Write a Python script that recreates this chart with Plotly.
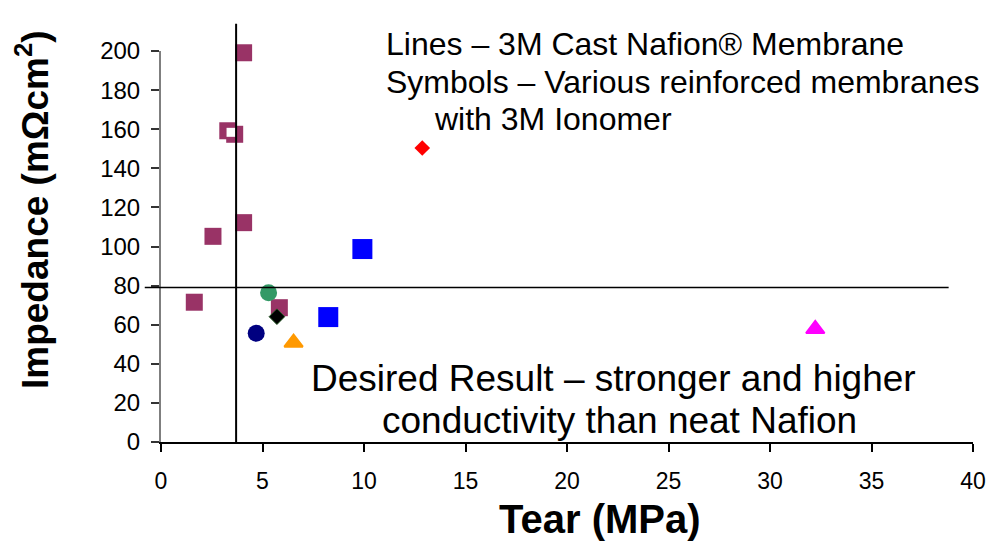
import plotly.graph_objects as go

# ---- data ----
X_RANGE = [0, 40]
Y_RANGE = [0, 200]
x_ticks = [0, 5, 10, 15, 20, 25, 30, 35, 40]
y_ticks = [0, 20, 40, 60, 80, 100, 120, 140, 160, 180, 200]

# 3M cast Nafion reference lines
NAFION_TEAR = 3.7
NAFION_IMPEDANCE = 79
VLINE_TOP = 214          # vertical line runs above the plot top
HLINE_X = [-0.8, 38.8]   # horizontal line extent (data units)

# reinforced membranes (symbols)
purple_x = [4.07, 3.29, 3.63, 2.56, 4.07, 1.64, 5.83]
purple_y = [199.1, 159.2, 157.4, 105.2, 112.2, 71.5, 68.7]
white_x = [3.45]
white_y = [158.4]
blue_x = [9.92, 8.24]
blue_y = [98.7, 63.9]
green_x = [5.30]
green_y = [76.4]
navy_x = [4.69]
navy_y = [55.6]
black_x = [5.71]
black_y = [64.1]
orange_x = [6.53]
orange_y = [50.8]
magenta_x = [32.23]
magenta_y = [57.8]
red_x = [12.87]
red_y = [150.4]

FONT = "Arial, 'Liberation Sans', sans-serif"

fig = go.Figure()

def add(xs, ys, symbol, size, color, line_color=None, line_width=0):
    fig.add_trace(go.Scatter(
        x=xs, y=ys, mode="markers", cliponaxis=False, showlegend=False,
        marker=dict(symbol=symbol, size=size, color=color,
                    line=dict(color=line_color or color, width=line_width))))

add(purple_x, purple_y, "square", 17, "#993366")
add(white_x, white_y, "square", 9, "white")
add(blue_x, blue_y, "square", 20, "#0000FF")
add(green_x, green_y, "circle", 17, "#339966")
add(navy_x, navy_y, "circle", 17, "#000080")
add(black_x, black_y, "diamond", 12, "#000000", "#1a4d1a", 1)
add(orange_x, orange_y, "triangle-up", 16, "#FF9900", None, 2)
add(magenta_x, magenta_y, "triangle-up", 16, "#FF00FF", None, 2)
add(red_x, red_y, "diamond", 12, "#FF0000")

# reference lines, expressed in paper coordinates derived from the axis ranges
def px(v):
    return (v - X_RANGE[0]) / (X_RANGE[1] - X_RANGE[0])

def py(v):
    return (v - Y_RANGE[0]) / (Y_RANGE[1] - Y_RANGE[0])

fig.add_shape(type="line", xref="paper", yref="paper",
              x0=px(NAFION_TEAR), x1=px(NAFION_TEAR), y0=py(0), y1=py(VLINE_TOP),
              line=dict(color="black", width=2), layer="above")
fig.add_shape(type="line", xref="paper", yref="paper",
              x0=px(HLINE_X[0]), x1=px(HLINE_X[1]),
              y0=py(NAFION_IMPEDANCE), y1=py(NAFION_IMPEDANCE),
              line=dict(color="black", width=1.5), layer="above")

# text annotations
W, H = 1005, 543
L, R, T, B = 161, 32, 51, 101
pw, ph = W - L - R, H - T - B

def fx(pxl):
    return (pxl - L) / pw

def fy(pyl):
    return (H - B - pyl) / ph

def note(text, x, y, size, xanchor="left", angle=0, yanchor="middle"):
    fig.add_annotation(text=text, xref="paper", yref="paper", x=x, y=y,
                       xanchor=xanchor, yanchor=yanchor, showarrow=False,
                       textangle=angle, borderpad=0,
                       font=dict(family=FONT, size=size, color="black"))

note("Lines – 3M Cast Nafion® Membrane", fx(385), fy(44), 32)
note("Symbols – Various reinforced membranes", fx(385), fy(82), 32)
note("with 3M Ionomer", fx(433), fy(119), 32)
note("Desired Result – stronger and higher", fx(613), fy(378), 37, "center")
note("conductivity than neat Nafion", fx(619), fy(420), 37, "center")

# axis titles
note("<b>Tear (MPa)</b>", fx(600), fy(542), 40, "center", 0, "bottom")
note("<b>Impedance (mΩcm<sup>2</sup>)</b>", fx(32), fy(210), 37, "center", -90)

fig.update_layout(
    width=W, height=H,
    margin=dict(l=L, r=R, t=T, b=B, autoexpand=False),
    paper_bgcolor="white", plot_bgcolor="white",
    font=dict(family=FONT, color="black"),
    xaxis=dict(range=X_RANGE, tickvals=x_ticks, showgrid=False, zeroline=False,
               showline=True, linecolor="black", linewidth=1.5,
               ticks="outside", ticklen=8, tickwidth=1.5, tickcolor="black",
               tickfont=dict(size=23), ticklabelstandoff=10),
    yaxis=dict(range=Y_RANGE, tickvals=y_ticks, showgrid=False, zeroline=False,
               showline=True, linecolor="#7f7f7f", linewidth=2,
               ticks="outside", ticklen=8, tickwidth=1.5, tickcolor="#333333",
               tickfont=dict(size=24), ticklabelstandoff=6),
)

fig.write_html("out.html")
